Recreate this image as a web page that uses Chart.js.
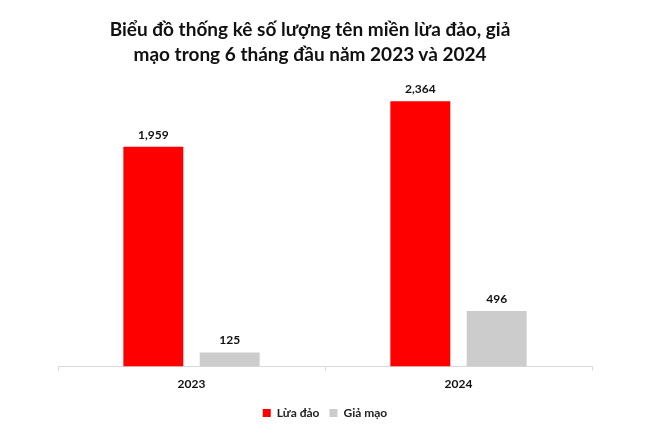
<!DOCTYPE html>
<html>
<head>
<meta charset="utf-8">
<script src="https://cdn.jsdelivr.net/npm/chart.js@4"></script>
<style>
  html, body { margin: 0; padding: 0; background: #fff; }
  #wrap { position: relative; width: 655px; height: 435px; }
  #title {
    position: absolute; left: 0; top: 16px; width: 620px;
    text-align: center; font-family: Lato, sans-serif; font-weight: bold;
    font-size: 19px; line-height: 25px; color: #111;
  }
</style>
</head>
<body>
<div id="wrap">
  <div id="title">Biểu đồ thống kê số lượng tên miền lừa đảo, giả<br>mạo trong 6 tháng đầu năm 2023 và 2024</div>
  <canvas id="chart" width="655" height="435"></canvas>
</div>
<script>
/* ===============================
   DATA
================================ */
const years = ["2023", "2024"];
const scamValues = [1959, 2364];   // Lừa đảo
const fakeValues = [125, 496];     // Giả mạo
const seriesNames = ["Lừa đảo", "Giả mạo"];

/* -------------------------------
   Value labels above bars
-------------------------------- */
const valueLabels = {
  id: "valueLabels",
  afterDatasetsDraw(chart) {
    const ctx = chart.ctx;
    ctx.save();
    ctx.font = "bold 12px Lato, sans-serif";
    ctx.fillStyle = "#111";
    ctx.textAlign = "center";
    ctx.textBaseline = "bottom";
    chart.data.datasets.forEach((ds, i) => {
      chart.getDatasetMeta(i).data.forEach((bar, j) => {
        ctx.fillText(ds.data[j].toLocaleString("en-US"), bar.x, bar.y - 6);
      });
    });
    ctx.restore();
  }
};

new Chart(document.getElementById("chart"), {
  type: "bar",
  data: {
    labels: years,
    datasets: [
      {
        label: seriesNames[0],
        data: scamValues,
        backgroundColor: "#ff0000",
        categoryPercentage: 0.572,
        barPercentage: 0.785
      },
      {
        label: seriesNames[1],
        data: fakeValues,
        backgroundColor: "#cccccc",
        categoryPercentage: 0.572,
        barPercentage: 0.785
      }
    ]
  },
  options: {
    responsive: false,
    animation: false,
    layout: {
      padding: { top: 86, left: 58, right: 63, bottom: 6 }
    },
    plugins: {
      title: { display: false },
      tooltip: { enabled: false },
      legend: {
        position: "bottom",
        labels: {
          boxWidth: 8,
          boxHeight: 8,
          padding: 10,
          color: "#222",
          font: { family: "Lato, sans-serif", size: 12, weight: "bold" }
        }
      }
    },
    scales: {
      x: {
        grid: {
          display: true,
          drawOnChartArea: false,
          drawTicks: true,
          tickLength: 4,
          color: "#d9d9d9"
        },
        border: { color: "#d9d9d9", width: 1 },
        ticks: {
          padding: 6,
          color: "#111",
          font: { family: "Lato, sans-serif", size: 12, weight: "bold" }
        }
      },
      y: {
        display: false,
        min: 0,
        max: 2500
      }
    }
  },
  plugins: [valueLabels]
});
</script>
</body>
</html>
